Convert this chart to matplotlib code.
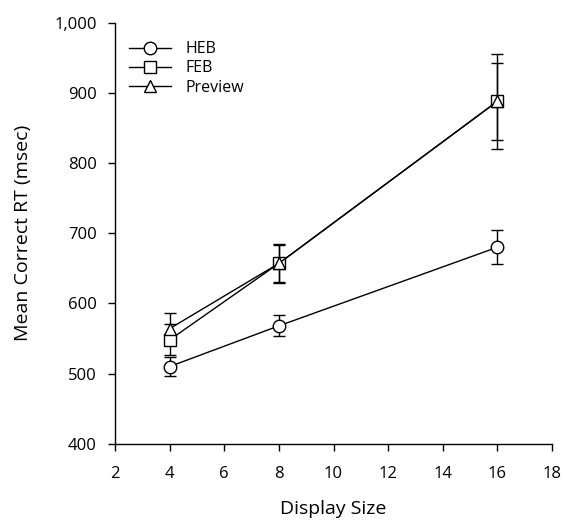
import matplotlib.pyplot as plt
from matplotlib.lines import Line2D
from matplotlib.ticker import FuncFormatter

plt.rcParams['font.family'] = ['Open Sans', 'DejaVu Sans']

display_size = [4, 8, 16]

heb_rt = [510, 568, 680]
heb_err = [13, 15, 24]

feb_rt = [548, 657, 888]
feb_err = [22, 28, 68]

preview_rt = [564, 657, 888]
preview_err = [22, 26, 55]

series = [
    ("HEB", heb_rt, heb_err, 'o'),
    ("FEB", feb_rt, feb_err, 's'),
    ("Preview", preview_rt, preview_err, '^'),
]

fig = plt.figure(figsize=(5.63, 5.24), dpi=100)
ax = fig.add_axes([0.2043, 0.1532, 0.7762, 0.8035])

handles = []
for name, rt, err, mk in series:
    ax.errorbar(display_size, rt, yerr=err, color='black', lw=1,
                marker=mk, markersize=9, markerfacecolor='white',
                markeredgecolor='black', markeredgewidth=1,
                capsize=4, elinewidth=1, capthick=1)
    handles.append(Line2D([], [], color='black', lw=1, marker=mk,
                          markersize=9, markerfacecolor='white',
                          markeredgecolor='black', label=name))

ax.set_xlim(2, 18)
ax.set_ylim(400, 1000)
ax.set_xticks(range(2, 19, 2))
ax.set_yticks(range(400, 1001, 100))
ax.yaxis.set_major_formatter(FuncFormatter(lambda v, p: '{:,.0f}'.format(v)))

for s in ['top', 'right']:
    ax.spines[s].set_visible(False)
for s in ['left', 'bottom']:
    ax.spines[s].set_linewidth(1)
ax.tick_params(direction='out', length=5, width=1, labelsize=12)
ax.tick_params(axis='x', pad=11)
ax.tick_params(axis='y', pad=8)

ax.set_xlabel("Display Size", fontsize=14, labelpad=13)
ax.set_ylabel("Mean Correct RT (msec)", fontsize=14, labelpad=16)

ax.legend(handles=handles, loc='upper left', bbox_to_anchor=(0.0, 0.99),
          frameon=False, fontsize=11.5, handlelength=2.6, handletextpad=0.9,
          labelspacing=0.2, borderaxespad=0.5)

fig.savefig("out.png", dpi=100)
